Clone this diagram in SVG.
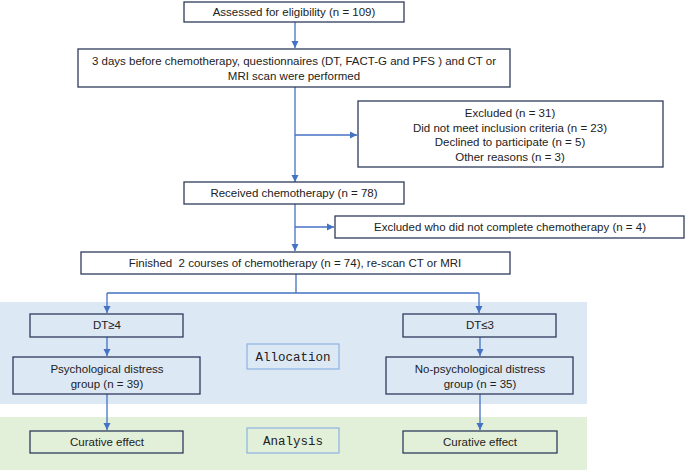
<svg xmlns="http://www.w3.org/2000/svg" width="685" height="470" viewBox="0 0 685 470">
<defs>
<marker id="ah" markerWidth="8" markerHeight="8" refX="7" refY="4" orient="auto" markerUnits="userSpaceOnUse">
<path d="M0,0.5 L7,4 L0,7.5 Z" fill="#4472c4"/>
</marker>
<style>
.box{fill:#ffffff;stroke:#2e3b5c;stroke-width:1.3}
.gbox{fill:none;stroke:#2e3b5c;stroke-width:1.3}
.lbl{fill:none;stroke:#8db3e2;stroke-width:1.2}
.t{font-family:"Liberation Sans",Arial,sans-serif;font-size:11.5px;fill:#222;text-anchor:middle}
.m{font-family:"Liberation Mono","Courier New",monospace;font-size:12.5px;fill:#222;text-anchor:middle}
.c{fill:none;stroke:#4472c4;stroke-width:1.3}
</style>
</defs>
<rect width="685" height="470" fill="#ffffff"/>
<rect id="band-allocation" x="0" y="302" width="587" height="102" fill="#dde8f5"/>
<rect id="band-analysis" x="0" y="417" width="587" height="53" fill="#e2efd9"/>

<g id="connectors">
<path class="c" d="M295,22 V48" marker-end="url(#ah)"/>
<path class="c" d="M295,87 V182" marker-end="url(#ah)"/>
<path class="c" d="M295,135 H357" marker-end="url(#ah)"/>
<path class="c" d="M295,204 V251" marker-end="url(#ah)"/>
<path class="c" d="M295,227 H334" marker-end="url(#ah)"/>
<path class="c" d="M296,274 V293 M107,293 H479"/>
<path class="c" d="M107,293 V313" marker-end="url(#ah)"/>
<path class="c" d="M479,293 V313" marker-end="url(#ah)"/>
<path class="c" d="M107,337 V356" marker-end="url(#ah)"/>
<path class="c" d="M480,337 V356" marker-end="url(#ah)"/>
<path class="c" d="M107,394 V430" marker-end="url(#ah)"/>
<path class="c" d="M480,394 V430" marker-end="url(#ah)"/>
</g>

<g id="n-assessed">
<rect class="box" x="184" y="2" width="220" height="20"/>
<text class="t" x="294" y="16">Assessed for eligibility (n = 109)</text>
</g>
<g id="n-questionnaires">
<rect class="box" x="78" y="49" width="432" height="38"/>
<text class="t" x="294" y="65">3 days before chemotherapy, questionnaires (DT, FACT-G and PFS ) and CT or</text>
<text class="t" x="294" y="80">MRI scan were performed</text>
</g>
<g id="n-excluded">
<rect class="box" x="358" y="101" width="305" height="66"/>
<text class="t" x="510" y="117">Excluded (n = 31)</text>
<text class="t" x="510" y="132">Did not meet inclusion criteria (n = 23)</text>
<text class="t" x="510" y="146">Declined to participate (n = 5)</text>
<text class="t" x="510" y="161">Other reasons (n = 3)</text>
</g>
<g id="n-received">
<rect class="box" x="184" y="182" width="220" height="22"/>
<text class="t" x="294" y="197">Received chemotherapy (n = 78)</text>
</g>
<g id="n-excluded2">
<rect class="box" x="335" y="216" width="349" height="22"/>
<text class="t" x="510" y="231">Excluded who did not complete chemotherapy (n = 4)</text>
</g>
<g id="n-finished">
<rect class="box" x="81" y="252" width="429" height="22"/>
<text class="t" x="295" y="267" style="white-space:pre" xml:space="preserve">Finished  2 courses of chemotherapy (n = 74), re-scan CT or MRI</text>
</g>
<g id="n-dt4">
<rect class="gbox" x="30" y="314" width="153" height="23"/>
<text class="t" x="107" y="329">DT≥4</text>
</g>
<g id="n-dt3">
<rect class="gbox" x="403" y="314" width="153" height="23"/>
<text class="t" x="480" y="329">DT≤3</text>
</g>
<g id="n-allocation">
<rect class="lbl" x="247" y="344" width="92" height="25"/>
<text class="m" x="293" y="361">Allocation</text>
</g>
<g id="n-psych">
<rect class="gbox" x="13" y="357" width="187" height="37"/>
<text class="t" x="107" y="373">Psychological distress</text>
<text class="t" x="107" y="388">group (n = 39)</text>
</g>
<g id="n-nopsych">
<rect class="gbox" x="386" y="357" width="187" height="37"/>
<text class="t" x="480" y="373">No-psychological distress</text>
<text class="t" x="480" y="388">group (n = 35)</text>
</g>
<g id="n-cur1">
<rect class="gbox" x="30" y="431" width="153" height="22"/>
<text class="t" x="107" y="446">Curative effect</text>
</g>
<g id="n-analysis">
<rect class="lbl" x="247" y="428" width="92" height="25"/>
<text class="m" x="293" y="445">Analysis</text>
</g>
<g id="n-cur2">
<rect class="gbox" x="403" y="431" width="154" height="22"/>
<text class="t" x="480" y="446">Curative effect</text>
</g>
</svg>
